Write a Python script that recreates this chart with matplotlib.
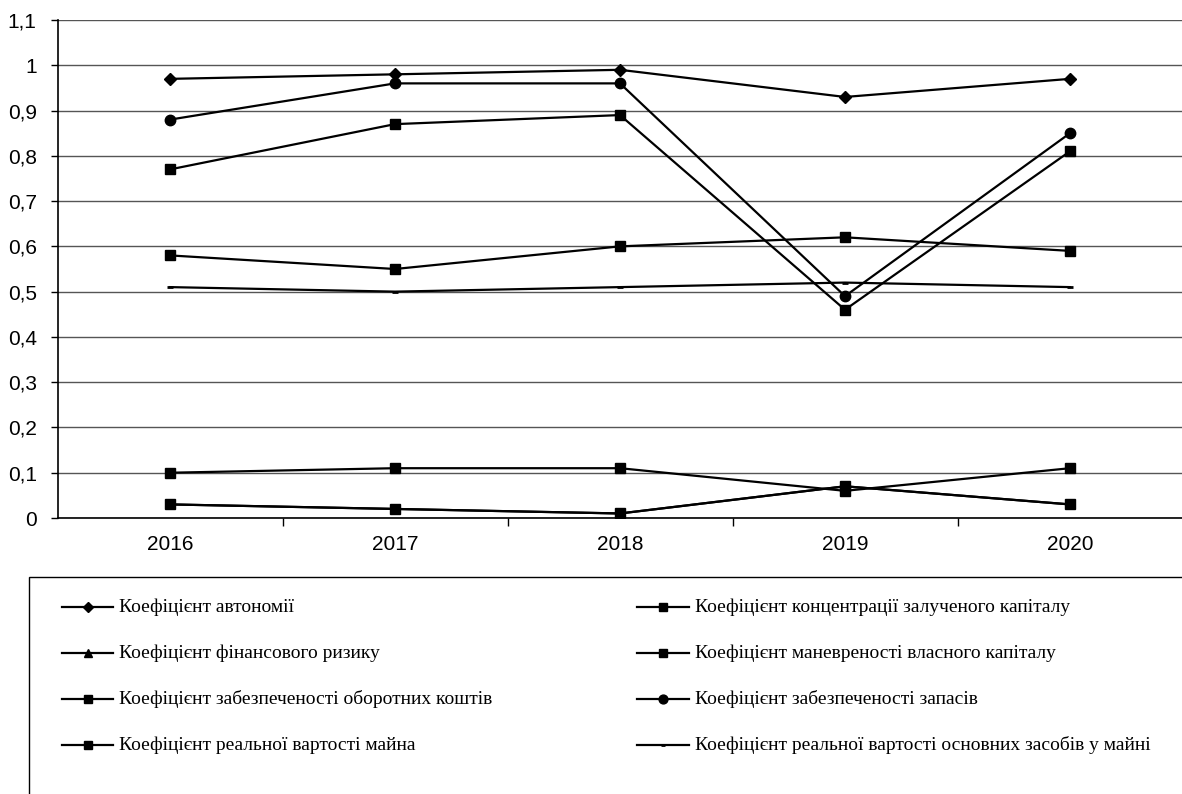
import matplotlib
matplotlib.use('Agg')
import matplotlib.pyplot as plt
from matplotlib.lines import Line2D
from matplotlib.patches import Rectangle
from matplotlib.ticker import FuncFormatter

# Роки та значення коефіцієнтів
years = ['2016', '2017', '2018', '2019', '2020']

k_avtonomii = [0.97, 0.98, 0.99, 0.93, 0.97]
k_koncentracii = [0.03, 0.02, 0.01, 0.07, 0.03]
k_fin_ryzyku = [0.03, 0.02, 0.01, 0.07, 0.03]
k_manevrenosti = [0.77, 0.87, 0.89, 0.46, 0.81]
k_obor_koshtiv = [0.10, 0.11, 0.11, 0.06, 0.11]
k_zapasiv = [0.88, 0.96, 0.96, 0.49, 0.85]
k_majna = [0.58, 0.55, 0.60, 0.62, 0.59]
k_osn_zasobiv = [0.51, 0.50, 0.51, 0.52, 0.51]

labels = [
    'Коефіцієнт автономії',
    'Коефіцієнт концентрації залученого капіталу',
    'Коефіцієнт фінансового ризику',
    'Коефіцієнт маневреності власного капіталу',
    'Коефіцієнт забезпеченості оборотних коштів',
    'Коефіцієнт забезпеченості запасів',
    'Коефіцієнт реальної вартості майна',
    'Коефіцієнт реальної вартості основних засобів у майні',
]
series = [k_avtonomii, k_koncentracii, k_fin_ryzyku, k_manevrenosti,
          k_obor_koshtiv, k_zapasiv, k_majna, k_osn_zasobiv]
markers = ['D', 's', '^', 's', 's', 'o', 's', '_']
msizes = [6, 7.5, 6, 7.5, 7.5, 7.5, 7.5, 4]

W, H = 1182, 794
fig = plt.figure(figsize=(W / 100, H / 100), dpi=100)
ax = fig.add_axes([57.5 / W, 1 - 518 / H, 1125 / W, 498 / H])

x = list(range(len(years)))
# трикутник малюємо першим - він ховається під квадратами
order = [2, 0, 1, 3, 4, 5, 6, 7]
for i in order:
    ax.plot(x, series[i], color='black', lw=1.6, marker=markers[i],
            markersize=msizes[i], markeredgewidth=2 if markers[i] == '_' else 1,
            zorder=3)

ax.set_xlim(-0.5, 4.5)
ax.set_ylim(0, 1.1)
ax.set_yticks([i / 10 for i in range(12)])
ax.yaxis.set_major_formatter(FuncFormatter(
    lambda v, p: '0' if abs(v) < 1e-9 else ('1' if abs(v - 1) < 1e-9 else f'{v:.1f}'.replace('.', ','))))
ax.grid(axis='y', color='#555555', lw=1)
ax.set_axisbelow(True)

ax.set_xticks(x)
ax.set_xticklabels(years)
ax.set_xticks([0.5, 1.5, 2.5, 3.5], minor=True)
ax.tick_params(axis='x', which='major', length=0, pad=12, labelsize=15)
ax.tick_params(axis='x', which='minor', length=6, width=1, direction='out')
ax.tick_params(axis='y', length=5, width=1, direction='out', pad=10, labelsize=15)
for lab in ax.get_xticklabels() + ax.get_yticklabels():
    lab.set_family('Liberation Sans')

for s in ['top', 'right']:
    ax.spines[s].set_visible(False)
for s in ['left', 'bottom']:
    ax.spines[s].set_linewidth(1.2)

# легенда у рамці під графіком
fig.add_artist(Rectangle((29 / W, 1 - 830 / H), 1200 / W, 253 / H,
                         transform=fig.transFigure, fill=False,
                         edgecolor='black', lw=1))
rows_y = [607, 653, 699, 745]
cols = [(62, 113, 119), (637, 689, 695)]
for k, lab in enumerate(labels):
    col = k % 2
    row = k // 2
    x0, x1, xt = cols[col]
    yy = 1 - rows_y[row] / H
    fig.add_artist(Line2D([x0 / W, (x0 + x1) / 2 / W, x1 / W], [yy, yy, yy],
                          transform=fig.transFigure, color='black', lw=1.6,
                          marker=markers[k], markevery=[1],
                          markersize=msizes[k] * 0.85,
                          markeredgewidth=2 if markers[k] == '_' else 1))
    fig.text(xt / W, yy, lab, fontsize=14, family='Liberation Serif',
             va='center', ha='left')

fig.savefig('out.png', dpi=100)
